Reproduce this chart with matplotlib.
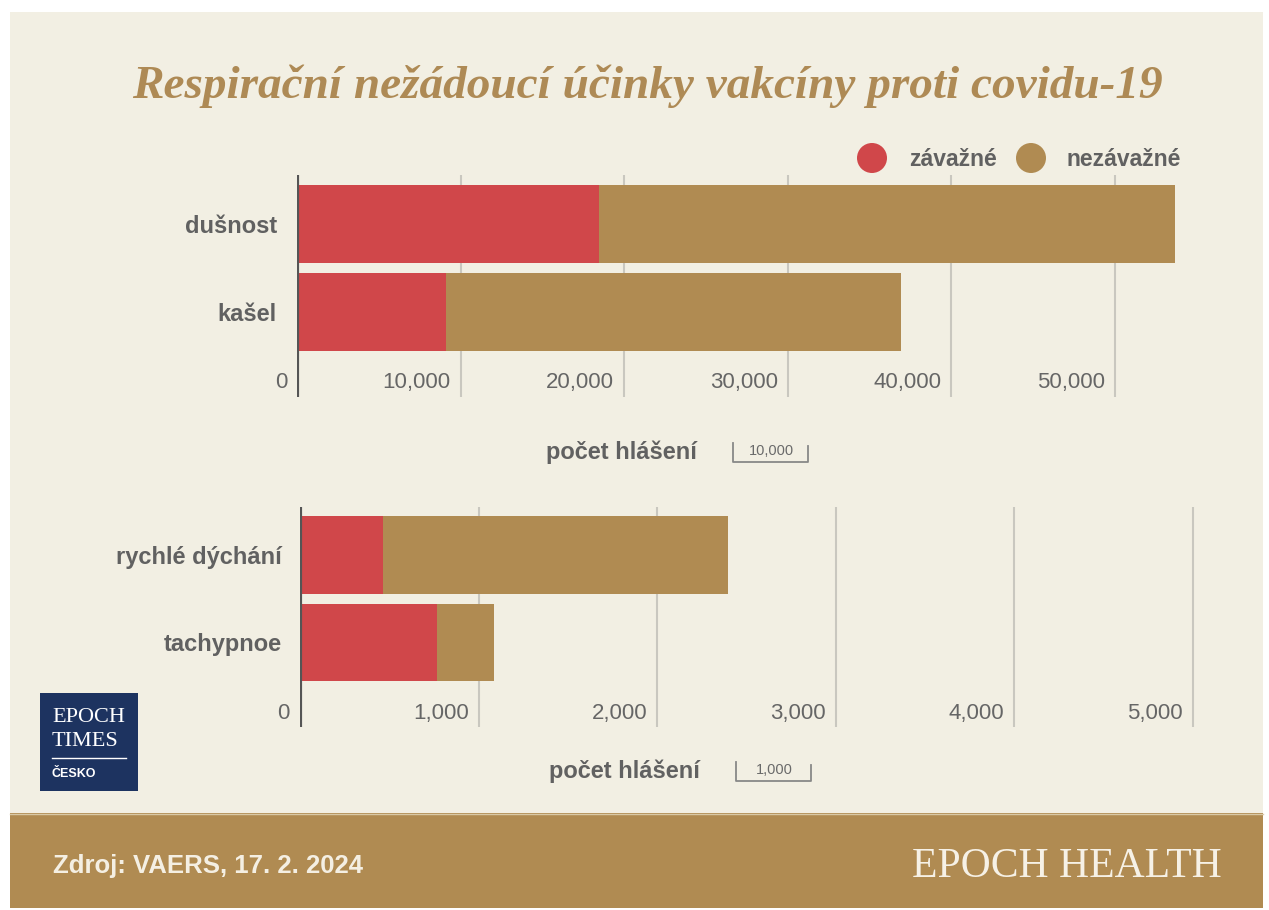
"""Respiratory adverse effects of covid-19 vaccines (VAERS) — two stacked bar panels."""

import matplotlib
matplotlib.use("Agg")
import matplotlib.pyplot as plt
from matplotlib.patches import Rectangle, Circle
from matplotlib.transforms import offset_copy

# --- data -------------------------------------------------------------------
top_labels = ["dušnost", "kašel"]
top_severe = [18450, 9100]
top_nonsevere = [35200, 27800]
top_ticks = [0, 10000, 20000, 30000, 40000, 50000]

bot_labels = ["rychlé dýchání", "tachypnoe"]
bot_severe = [465, 770]
bot_nonsevere = [1935, 315]
bot_ticks = [0, 1000, 2000, 3000, 4000, 5000]

series_names = ["závažné", "nezávažné"]
axis_title = "počet hlášení"
title = "Respirační nežádoucí účinky vakcíny proti covidu-19"
source = "Zdroj: VAERS, 17. 2. 2024"

# --- style ------------------------------------------------------------------
W, H = 1269, 910
RED = "#d0474a"
GOLD = "#b08b52"
CREAM = "#f2efe3"
GREY = "#616161"
TICK_GREY = "#666666"
GRID = "#c9c7bf"
NAVY = "#1d3360"

SANS = ["Liberation Sans", "DejaVu Sans"]
SERIF = ["Liberation Serif", "DejaVu Serif"]

fig = plt.figure(figsize=(W / 100, H / 100), dpi=100, facecolor="white")

# background canvas in pixel coordinates
bg = fig.add_axes([0, 0, 1, 1])
bg.set_xlim(0, W)
bg.set_ylim(H, 0)
bg.axis("off")
bg.add_patch(Rectangle((10, 12), 1253, 896, color=CREAM, lw=0))
bg.add_patch(Rectangle((10, 813), 1253, 95, color=GOLD, lw=0))
bg.plot([10, 1263], [813.5, 813.5], color="#d9c9a6", lw=1)

bg.text(647, 86, title, family=SERIF, weight="bold", style="italic",
        fontsize=34, color="#ae8a55", ha="center", va="center")

# legend
for (cx, tx), name, col in zip([(872, 909), (1031, 1066)], series_names, [RED, GOLD]):
    bg.add_patch(Circle((cx, 158), 15, color=col, lw=0))
    bg.text(tx, 159, name, family=SANS, weight="bold", fontsize=16.5,
            color=GREY, ha="left", va="center")

# logo
bg.add_patch(Rectangle((40, 693), 98, 98, color=NAVY, lw=0))
bg.text(52, 717, "EPOCH", family=SERIF, fontsize=16, color="white", ha="left", va="center")
bg.text(52, 742, "TIMES", family=SERIF, fontsize=16, color="white", ha="left", va="center")
bg.plot([52, 126], [758, 758], color="white", lw=1)
bg.text(52, 774, "ČESKO", family=SANS, weight="bold", fontsize=9, color="white",
        ha="left", va="center")

# footer
bg.text(53, 866, source, family=SANS, weight="bold", fontsize=18.5,
        color="#f4efe3", ha="left", va="center")
bg.text(1222, 867, "EPOCH HEALTH", family=SERIF, fontsize=30,
        color="#f6f1e6", ha="right", va="center")


def panel(box, labels, severe, nonsevere, ticks, xmax, ylim, label_y, pad):
    l, t, r, b = box
    ax = fig.add_axes([l / W, 1 - b / H, (r - l) / W, (b - t) / H])
    ax.set_facecolor("none")
    ax.barh(labels, severe, height=0.89, color=RED, zorder=2)
    ax.barh(labels, nonsevere, left=severe, height=0.89, color=GOLD, zorder=2)
    ax.set_xlim(0, xmax)
    ax.set_ylim(*ylim)
    for s in ax.spines.values():
        s.set_visible(False)
    for x in ticks[1:]:
        ax.axvline(x, color=GRID, lw=1.5, zorder=1)
    ax.axvline(0, color="#555555", lw=3, zorder=3)
    ax.set_xticks([])
    ax.tick_params(axis="y", length=0, pad=pad)
    for lab in ax.get_yticklabels():
        lab.set_fontfamily(SANS)
        lab.set_fontweight("bold")
        lab.set_fontsize(17)
        lab.set_color(GREY)
    shift = offset_copy(ax.transData, fig=fig, x=-10, y=0, units="dots")
    for x in ticks:
        ax.text(x, label_y, f"{x:,}", transform=shift, family=SANS,
                fontsize=16, color=TICK_GREY, ha="right", va="center")
    return ax


panel((297, 175, 1190, 397), top_labels, top_severe, top_nonsevere, top_ticks,
      54580, (1.966, -0.557), 1.8, 14.5)
panel((300, 507, 1195, 727), bot_labels, bot_severe, bot_nonsevere, bot_ticks,
      5014, (1.966, -0.549), 1.81, 13)


def scale_note(x0, y, step):
    bg.text(x0 - 36, y, axis_title, family=SANS, weight="bold", fontsize=17,
            color=GREY, ha="right", va="center")
    bg.plot([x0, x0, x0 + 75, x0 + 75], [y - 9, y + 10, y + 10, y - 6],
            color="#888888", lw=1.3)
    bg.text(x0 + 38, y - 1, f"{step:,}", family=SANS, fontsize=10.5,
            color="#6a6a6a", ha="center", va="center")


scale_note(733, 452, top_ticks[1])
scale_note(736, 771, bot_ticks[1])

fig.savefig("out.png", dpi=100, facecolor="white")
